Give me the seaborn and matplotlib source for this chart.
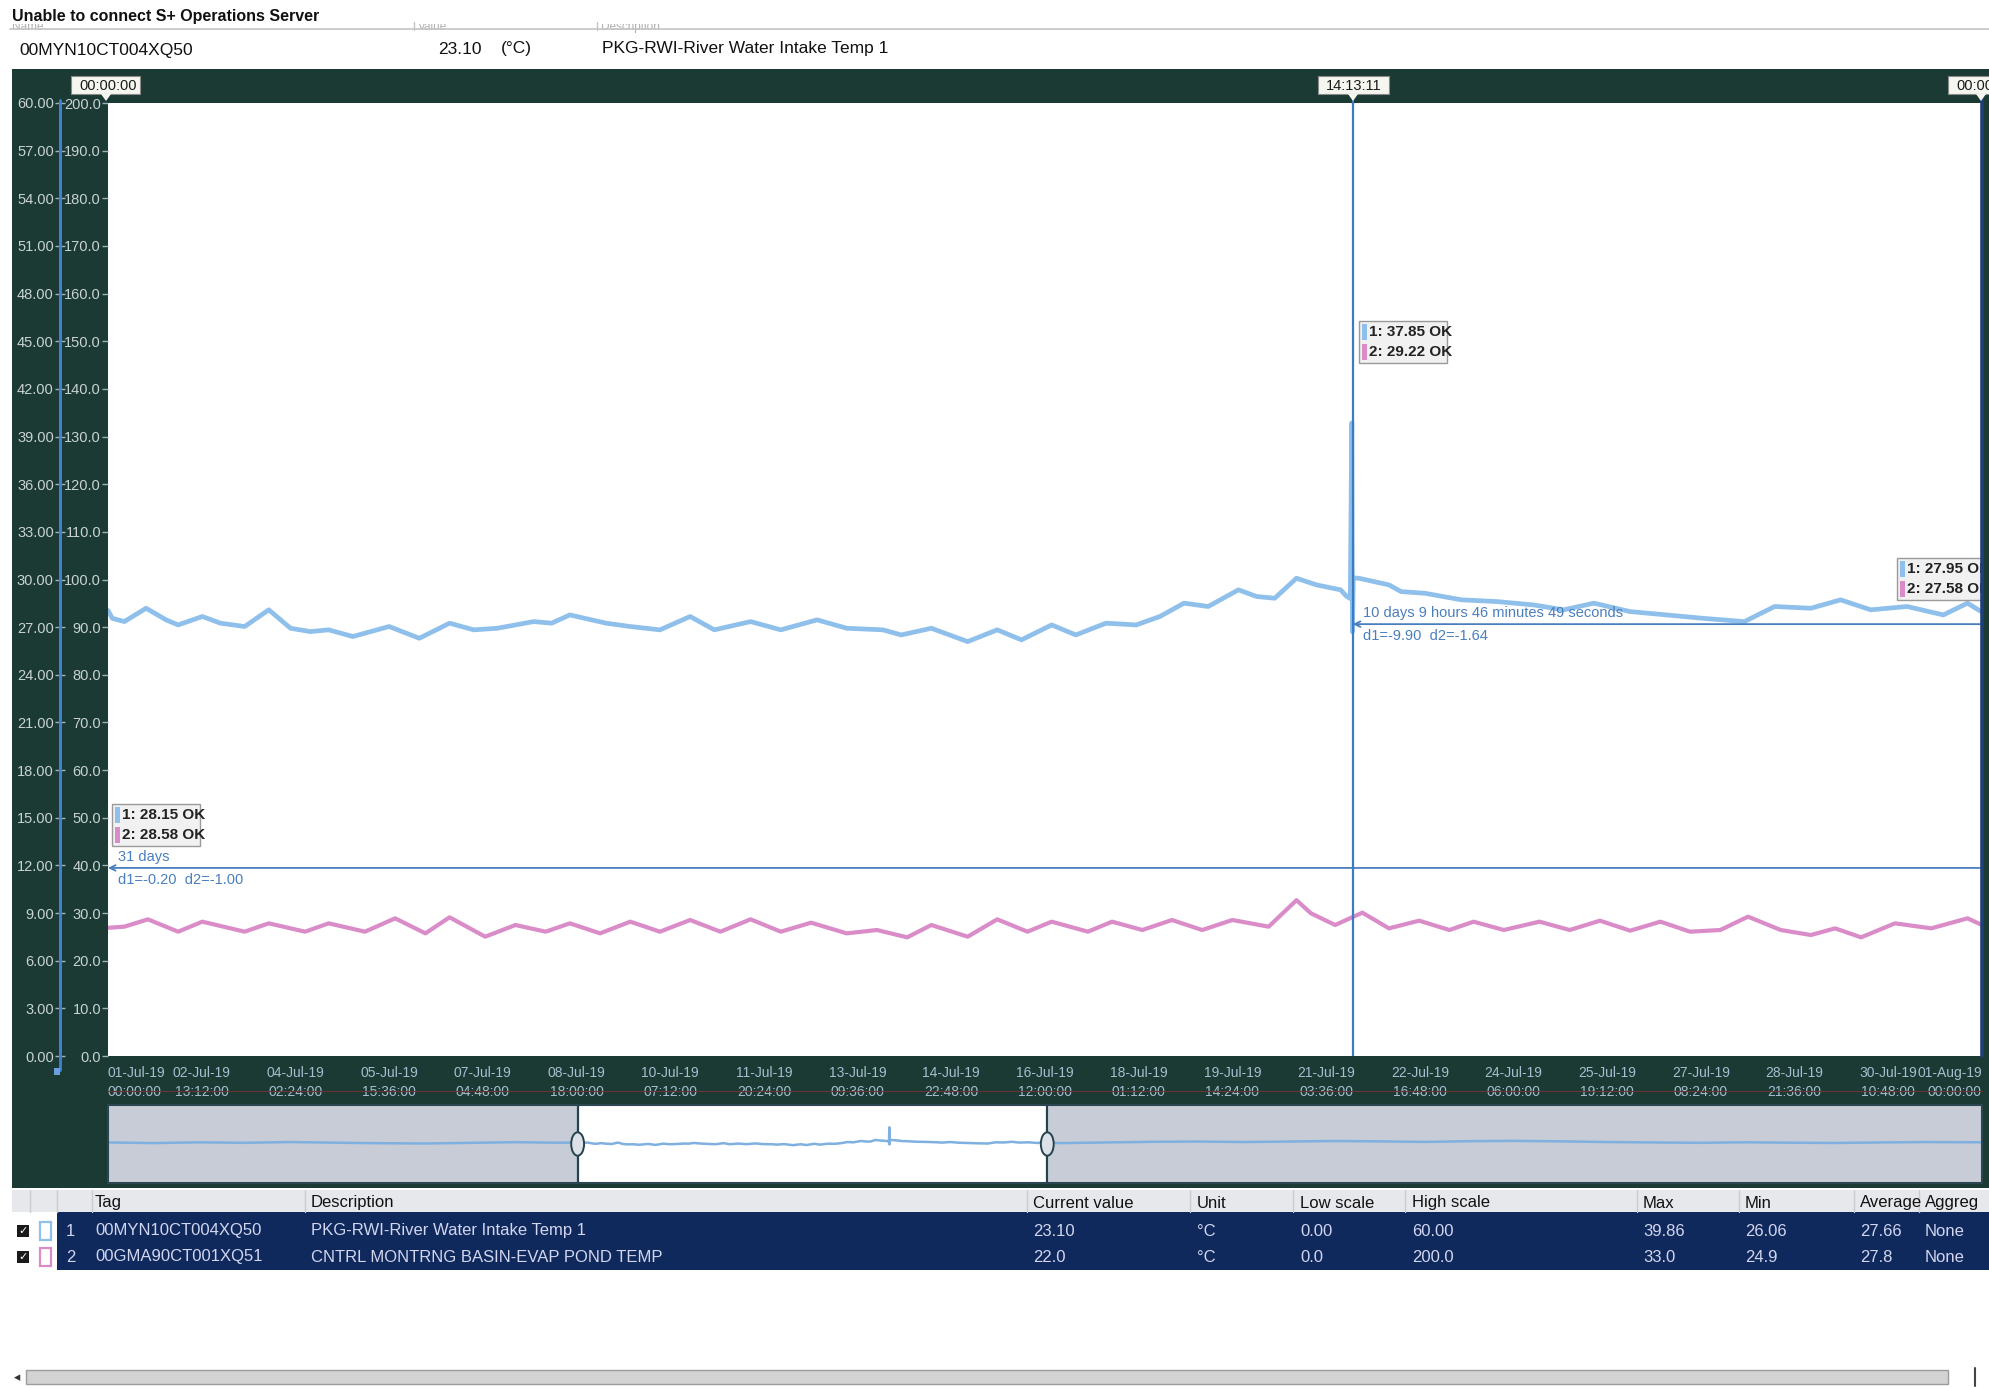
import numpy as np
import pandas as pd
import matplotlib
matplotlib.use('Agg')
from matplotlib import pyplot as plt
from matplotlib.patches import Rectangle, Ellipse, Polygon
from matplotlib.lines import Line2D
from matplotlib.ticker import FormatStrFormatter
import matplotlib.dates as mdates
import matplotlib.transforms as mtrans
import seaborn as sns

# trend window 01-Jul-19 00:00 .. 01-Aug-19 00:00, times are days after start
start = pd.Timestamp('2019-07-01 00:00:00')
end = pd.Timestamp('2019-08-01 00:00:00')
cursor_time = pd.Timestamp('2019-07-21 14:13:11')

# pen 1: 00MYN10CT004XQ50 (left scale 0..60)
blue_days = [0.0, 0.07, 0.27, 0.63, 0.96, 1.16, 1.56, 1.86, 2.26, 2.66, 3.02, 3.35,
             3.65, 4.05, 4.65, 5.15, 5.65, 6.05, 6.44, 7.04, 7.34, 7.64, 8.24, 8.64,
             9.13, 9.63, 10.03, 10.63, 11.13, 11.73, 12.22, 12.82, 13.12, 13.62, 14.22,
             14.71, 15.11, 15.61, 16.01, 16.51, 17.01, 17.40, 17.80, 18.20, 18.70, 19.00,
             19.30, 19.66, 19.99, 20.39, 20.49, 20.55, 20.575, 20.585, 20.60, 20.69,
             21.19, 21.39, 21.79, 22.39, 22.98, 23.58, 24.08, 24.58, 25.18, 25.78, 26.37,
             27.07, 27.57, 28.17, 28.66, 29.16, 29.76, 30.36, 30.76, 31.0]
blue_vals = [28.05, 27.56, 27.35, 28.19, 27.46, 27.14, 27.67, 27.25, 27.04, 28.09, 26.93, 26.72,
             26.83, 26.41, 27.04, 26.30, 27.25, 26.83, 26.93, 27.35, 27.25, 27.77, 27.25, 27.04,
             26.83, 27.67, 26.83, 27.35, 26.83, 27.46, 26.93, 26.83, 26.51, 26.93, 26.09,
             26.83, 26.20, 27.14, 26.51, 27.25, 27.14, 27.67, 28.51, 28.30, 29.35, 28.93,
             28.82, 30.08, 29.66, 29.35, 28.93, 28.80, 39.86, 26.70, 30.10, 30.08,
             29.66, 29.24, 29.13, 28.72, 28.61, 28.40, 28.09, 28.51, 27.98, 27.77, 27.56,
             27.35, 28.30, 28.19, 28.72, 28.09, 28.30, 27.77, 28.51, 27.95]

# pen 2: 00GMA90CT001XQ51 (inner scale 0..200)
pink_days = [0.0, 0.27, 0.66, 1.16, 1.56, 2.26, 2.66, 3.26, 3.65, 4.25, 4.75, 5.25,
             5.65, 6.24, 6.74, 7.24, 7.64, 8.14, 8.64, 9.13, 9.63, 10.13, 10.63, 11.13,
             11.63, 12.22, 12.72, 13.22, 13.62, 14.22, 14.71, 15.21, 15.61, 16.21, 16.61,
             17.11, 17.60, 18.10, 18.60, 19.20, 19.66, 19.90, 20.30, 20.75, 21.19, 21.69,
             22.19, 22.59, 23.09, 23.68, 24.18, 24.68, 25.18, 25.68, 26.17, 26.67, 27.13,
             27.67, 28.17, 28.57, 29.00, 29.56, 30.16, 30.76, 31.0]
pink_vals = [26.9, 27.14, 28.68, 26.09, 28.19, 26.09, 27.84, 26.09, 27.84, 26.09, 28.89, 25.74,
             29.10, 25.04, 27.49, 26.09, 27.84, 25.74, 28.19, 26.09, 28.54, 26.09, 28.68, 26.09,
             27.98, 25.74, 26.44, 24.90, 27.49, 25.04, 28.68, 26.09, 28.19, 26.09, 28.19,
             26.44, 28.54, 26.44, 28.54, 27.14, 32.70, 29.94, 27.49, 30.08, 26.79, 28.40,
             26.44, 28.19, 26.44, 28.19, 26.44, 28.40, 26.30, 28.19, 26.09, 26.44, 29.24,
             26.44, 25.39, 26.79, 24.90, 27.84, 26.79, 28.89, 27.49]

# overview strip, pen 1 outside the trend window (days after start)
ovw_pre_days = [-31, -28, -25, -22, -19, -16, -13, -10, -7, -4, -1.5]
ovw_pre_vals = [28.2, 27.7, 28.3, 27.9, 28.5, 28.0, 27.6, 27.4, 27.9, 28.4, 28.0]
ovw_post_days = [32, 35, 38, 41, 44, 47, 50, 53, 56, 59, 62, 65, 68, 71, 74, 77, 80,
                 83, 86, 89, 92.7]
ovw_post_vals = [27.7, 28.2, 28.7, 28.9, 28.5, 28.9, 29.3, 29.0, 28.6, 29.2, 29.4, 29.0,
                 28.5, 28.2, 27.9, 28.3, 28.0, 27.8, 28.2, 28.5, 28.3]

# readouts at the three cursors and the two measuring lines
read_start = ['28.15', '28.58']
read_cursor = ['37.85', '29.22']
read_end = ['27.95', '27.58']
meas_levels = [11.84, 27.19]
meas_top = ['31 days', '10 days 9 hours 46 minutes 49 seconds']
meas_bottom = ['d1=-0.20  d2=-1.00', 'd1=-9.90  d2=-1.64']

# pen table
columns = ['Tag', 'Description', 'Current value', 'Unit', 'Low scale', 'High scale',
           'Max', 'Min', 'Average', 'Aggreg']
tags = ['00MYN10CT004XQ50', '00GMA90CT001XQ51']
descriptions = ['PKG-RWI-River Water Intake Temp 1', 'CNTRL MONTRNG BASIN-EVAP POND TEMP']
current = ['23.10', '22.0']
units = ['°C', '°C']
low_scale = ['0.00', '0.0']
high_scale = ['60.00', '200.0']
max_vals = ['39.86', '33.0']
min_vals = ['26.06', '24.9']
avg_vals = ['27.66', '27.8']
aggregs = ['None', 'None']

blue = '#8fc0ec'
pink = '#da8cc8'
panel = '#1a3a33'
axis_txt = '#c9d2d4'
meas_col = '#4a7fbf'

sns.set_theme(style='white')
plt.rcParams['font.family'] = ['Liberation Sans', 'DejaVu Sans']

W, H = 1989, 1388
fig = plt.figure(figsize=(W / 100, H / 100), dpi=100, facecolor='white')


def fx(x):
    return x / W


def fy(y):
    return 1 - y / H


def box_px(x, y, w, h, **kw):
    r = Rectangle((fx(x), fy(y + h)), w / W, h / H, transform=fig.transFigure, **kw)
    fig.add_artist(r)
    return r


def text_px(x, y, s, **kw):
    kw.setdefault('va', 'center')
    return fig.text(fx(x), fy(y), s, **kw)


def line_px(xs, ys, **kw):
    fig.add_artist(Line2D([fx(v) for v in xs], [fy(v) for v in ys],
                          transform=fig.transFigure, **kw))


def to_time(days):
    return start + pd.to_timedelta(np.asarray(days, dtype=float), unit='D')


# header strip (old column titles half hidden under the banner)
text_px(12, 27, 'Name', fontsize=8.5, color='#b0b0b0')
text_px(418, 27, 'Value', fontsize=8.5, color='#b0b0b0')
text_px(601, 27, 'Description', fontsize=8.5, color='#b0b0b0')
box_px(0, 0, W, 24, facecolor='white', edgecolor='none', zorder=4)
line_px([10, W], [29, 29], color='#c4c4c4', lw=1.2, zorder=5)
line_px([414, 414], [22, 30], color='#c4c4c4', lw=1, zorder=5)
line_px([597, 597], [22, 30], color='#c4c4c4', lw=1, zorder=5)
text_px(12, 16, 'Unable to connect S+ Operations Server', fontsize=11.5,
        fontweight='bold', color='#111111', zorder=6)
text_px(19, 50, '00MYN10CT004XQ50', fontsize=12.5, color='#111111')
text_px(482, 49, '23.10', fontsize=12.5, color='#111111', ha='right')
text_px(501, 49, '(°C)', fontsize=12.5, color='#111111')
text_px(602, 48, 'PKG-RWI-River Water Intake Temp 1', fontsize=12.5, color='#111111')

# dark trend panel
box_px(12, 69, W - 12, 1119, facecolor=panel, edgecolor='none', zorder=-10)

# main trend
ax1 = fig.add_axes([fx(108), fy(1056), 1874 / W, 953 / H])
df1 = pd.DataFrame({'time': to_time(blue_days), 'value': blue_vals})
sns.lineplot(data=df1, x='time', y='value', ax=ax1, color=blue, lw=3.4,
             solid_joinstyle='round')
ax1.set_xlim(start, end)
ax1.set_ylim(0, 60)
ax1.set_yticks(np.arange(0, 61, 3))
ax1.yaxis.set_major_formatter(FormatStrFormatter('%.2f'))
ax1.set_facecolor('white')
for s in ['top', 'right', 'bottom']:
    ax1.spines[s].set_visible(False)
ax1.spines['left'].set_position(('outward', 34.5))
ax1.spines['left'].set_color('#3f82d6')
ax1.spines['left'].set_linewidth(2)
ax1.tick_params(axis='y', direction='inout', length=7, width=1, color='#9fb0b8',
                labelsize=10.5, labelcolor=axis_txt, pad=1, left=True)
ticks = pd.date_range(start, end, periods=21)
ax1.set_xticks(mdates.date2num(ticks.to_pydatetime()))
xl = ax1.set_xticklabels([t.strftime('%d-%b-%y\n%H:%M:%S') for t in ticks],
                         linespacing=1.45)
xl[0].set_ha('left')
xl[-1].set_ha('right')
ax1.tick_params(axis='x', length=0, pad=7, labelsize=10, labelcolor='#a9bdd0')
ax1.set_xlabel('')
ax1.set_ylabel('')

ax2 = ax1.twinx()
df2 = pd.DataFrame({'time': to_time(pink_days), 'value': pink_vals})
sns.lineplot(data=df2, x='time', y='value', ax=ax2, color=pink, lw=3.0,
             solid_joinstyle='round')
ax2.set_xlim(start, end)
ax2.set_ylim(0, 200)
ax2.set_yticks(np.arange(0, 201, 10))
ax2.yaxis.set_major_formatter(FormatStrFormatter('%.1f'))
ax2.yaxis.tick_left()
for s in ax2.spines.values():
    s.set_visible(False)
ax2.tick_params(axis='y', direction='out', length=4, width=1, color='#9fb0b8',
                labelsize=10.5, labelcolor=axis_txt, pad=1)
ax2.set_xlabel('')
ax2.set_ylabel('')

# cursor and measuring lines
ax2.axvline(cursor_time, color='#3c7cc4', lw=1.6, zorder=5)
line_px([1353, 1353], [93, 104], color='#3c7cc4', lw=1.6, zorder=5)
line_px([1982, 1982], [91, 1056], color='#1f3f78', lw=2.6, zorder=5)
line_px([60, 60], [100, 1070], color='#3f82d6', lw=2, zorder=5)
box_px(54, 1068, 6, 7, facecolor='#6aa0e0', edgecolor='none', zorder=5)
line_px([108, 1982], [1091, 1091], color='#6b3434', lw=0.8, zorder=5)

for lvl, x0, top, bot in zip(meas_levels, [start, cursor_time], meas_top, meas_bottom):
    ax1.annotate('', xy=(x0, lvl), xytext=(end, lvl),
                 arrowprops=dict(arrowstyle='->', color=meas_col, lw=1.3,
                                 shrinkA=0, shrinkB=0, mutation_scale=10))
    xt = x0 + pd.Timedelta(hours=4)
    ax1.text(xt, lvl + 0.25, top, fontsize=10.5, color=meas_col, va='bottom', ha='left')
    ax1.text(xt, lvl - 0.3, bot, fontsize=10.5, color=meas_col, va='top', ha='left')


def readout(ax, x, y, vals):
    w, h = 88, 42
    ax.add_patch(Rectangle((fx(x), fy(y + h)), w / W, h / H, transform=fig.transFigure,
                           facecolor='#f1f1f1', edgecolor='#9a9a9a', lw=1, zorder=8))
    for i, (v, c) in enumerate(zip(vals, [blue, pink])):
        yy = y + 11 + i * 20
        ax.add_patch(Rectangle((fx(x + 3), fy(yy + 8)), 5 / W, 16 / H,
                               transform=fig.transFigure, facecolor=c,
                               edgecolor='none', zorder=9))
        ax.text(fx(x + 10), fy(yy), f'{i + 1}: {v} OK', transform=fig.transFigure,
                fontsize=11, fontweight='bold', va='center', ha='left',
                color='#222222', zorder=9, clip_on=True)


readout(ax2, 112, 804, read_start)
readout(ax2, 1359, 321, read_cursor)
readout(ax2, 1897, 558, read_end)

# cursor time flags in the top band
for (bx, bw, px_, label) in [(71, 69, 106, '00:00:00'), (1318, 71, 1353, '14:13:11'),
                             (1948, 60, 1981, '00:00:00')]:
    box_px(bx, 76, bw, 18, facecolor='#f6f6f0', edgecolor='#8a8a8a', lw=0.8, zorder=6)
    fig.add_artist(Polygon([(fx(px_ - 5), fy(94)), (fx(px_ + 5), fy(94)), (fx(px_), fy(101))],
                           closed=True, transform=fig.transFigure, facecolor='#f6f6f0',
                           edgecolor='none', zorder=6))
    text_px(bx + 8, 85.5, label, fontsize=10.5, color='#1a1a1a', zorder=7)

# overview strip
ax3 = fig.add_axes([fx(108), fy(1183), 1874 / W, 78 / H])
ovw = pd.DataFrame({'time': to_time(ovw_pre_days + blue_days + ovw_post_days),
                    'value': ovw_pre_vals + blue_vals + ovw_post_vals})
ax3.set_facecolor('#c8ccd6')
ax3.axvspan(start, end, color='white', zorder=0)
sns.lineplot(data=ovw, x='time', y='value', ax=ax3, color='#7fb0e0', lw=1.8, zorder=2)
ax3.set_xlim(start - pd.Timedelta(days=31), start + pd.Timedelta(days=92.7))
ax3.set_ylim(-3, 57)
ax3.set_xticks([])
ax3.set_yticks([])
ax3.set_xlabel('')
ax3.set_ylabel('')
for s in ax3.spines.values():
    s.set_color('#2a4650')
    s.set_linewidth(1.5)
blend = mtrans.blended_transform_factory(ax3.transData, ax3.transAxes)
for edge in [start, end]:
    ax3.axvline(edge, color='#23434f', lw=1.6, zorder=3)
    ax3.add_patch(Ellipse((mdates.date2num(edge), 0.5), 0.85, 0.3, transform=blend,
                          facecolor='#dde0e6', edgecolor='#23434f', lw=1.4, zorder=4))

# pen table
box_px(12, 1190, W - 12, 22, facecolor='#e6e8ec', edgecolor='none')
col_x = [95, 311, 1033, 1197, 1300, 1412, 1643, 1745, 1860, 1925]
for cx in [30, 57, 92, 305, 1027, 1190, 1293, 1405, 1637, 1739, 1854, 1919]:
    line_px([cx, cx], [1190, 1212], color='#c9ccd2', lw=1)
for cx, name in zip(col_x, columns):
    text_px(cx, 1203, name, fontsize=12, color='#111111')
box_px(57, 1212, W - 57, 58, facecolor='#10295c', edgecolor='none')
row_col = '#d2d6ef'
for i in range(2):
    ry = 1231 + i * 26
    box_px(17, ry - 6, 12, 12, facecolor='#1a1a1a', edgecolor='none')
    text_px(23, ry, '✓', fontsize=8, color='white', ha='center', family='DejaVu Sans')
    box_px(40, ry - 9, 11, 18, facecolor='white', edgecolor=[blue, pink][i], lw=1.6)
    text_px(66, ry, str(i + 1), fontsize=12, color=row_col)
    cells = [tags[i], descriptions[i], current[i], units[i], low_scale[i], high_scale[i],
             max_vals[i], min_vals[i], avg_vals[i], aggregs[i]]
    for cx, val in zip(col_x, cells):
        text_px(cx, ry, val, fontsize=12, color=row_col)

# horizontal scroll bar
box_px(26, 1370, 1922, 14, facecolor='#d3d3d3', edgecolor='#9c9c9c', lw=1)
text_px(17, 1378, '◂', fontsize=9, color='#333333', ha='center', family='DejaVu Sans')
line_px([1975, 1975], [1368, 1386], color='#444444', lw=1.5)

fig.savefig('out.png', dpi=100, facecolor='white')
